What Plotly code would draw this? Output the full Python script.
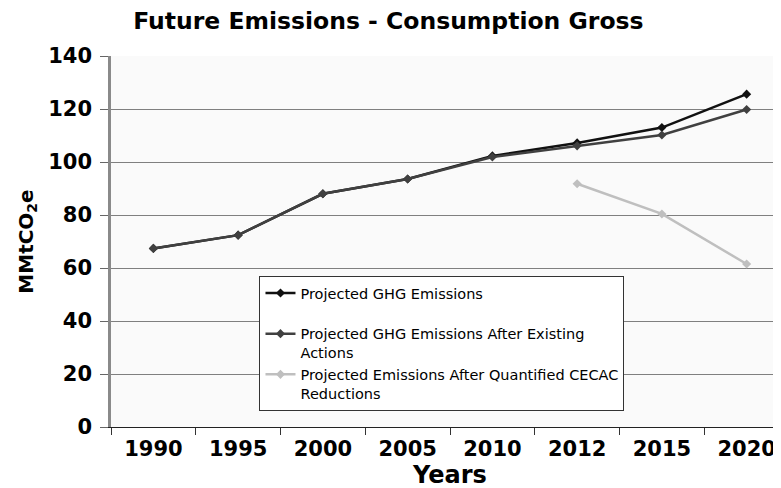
import plotly.graph_objects as go

years = ["1990", "1995", "2000", "2005", "2010", "2012", "2015", "2020"]
projected = [67.4, 72.4, 88.0, 93.6, 102.3, 107.2, 113.0, 125.6]
after_existing = [67.4, 72.4, 88.0, 93.6, 101.9, 106.1, 110.2, 119.8]
after_cecac = [None, None, None, None, None, 91.8, 80.4, 61.5]

names = ["Projected GHG Emissions<br> ",
         "Projected GHG Emissions After Existing<br>Actions",
         "Projected Emissions After Quantified CECAC<br>Reductions"]
colors = ["#111111", "#404040", "#bfbfbf"]
series = [projected, after_existing, after_cecac]

fig = go.Figure()
for i, (nm, col, vals) in enumerate(zip(names, colors, series)):
    fig.add_trace(go.Scatter(
        x=years, y=vals, name=nm, mode="lines+markers",
        line=dict(color=col, width=2.5),
        marker=dict(symbol="diamond", size=7, color=col),
        legendgroup="g%d" % i, connectgaps=False))

font = "DejaVu Sans, Verdana, sans-serif"
fig.update_layout(
    width=781, height=488,
    margin=dict(l=103, r=0, t=48, b=69, autoexpand=False),
    paper_bgcolor="white", plot_bgcolor="#fafafa",
    font=dict(family=font, color="black"),
    title=dict(text="<b>Future Emissions - Consumption Gross</b>",
               xref="container", x=0.487, xanchor="center",
               yref="container", y=0.974, yanchor="middle",
               font=dict(size=23.5, family=font, color="black")),
    showlegend=True,
    legend=dict(x=0.219, y=0.407, xanchor="left", yanchor="top",
                bgcolor="white", bordercolor="#333333", borderwidth=1,
                font=dict(size=14.5, family=font, color="black"),
                tracegroupgap=0, valign="top", traceorder="normal",
                itemwidth=30),
    xaxis=dict(type="category", range=[-0.5, 7.5], automargin=True,
               tickson="boundaries", ticks="outside", ticklen=7,
               tickcolor="#333333", showgrid=False,
               showline=True, linecolor="#222222", linewidth=1.2,
               tickfont=dict(size=21, family=font, color="black", weight="bold"),
               ticklabelstandoff=3,
               title=dict(text="<b>Years</b>", standoff=4,
                          font=dict(size=24, family=font, color="black"))),
    yaxis=dict(range=[0, 140], dtick=20, tickformat="d", automargin=False,
               ticks="outside", ticklen=8, tickcolor="#666666",
               showgrid=True, gridcolor="#7f7f7f", gridwidth=1,
               zeroline=False, showline=True, linecolor="#8a8a8a", linewidth=2.5,
               tickfont=dict(size=21, family=font, color="black", weight="bold"),
               ticklabelstandoff=4,
               title=dict(text="<b>MMtCO<sub>2</sub>e</b>", standoff=10,
                          font=dict(size=20, family=font, color="black"))),
)
fig.write_html("out.html")
